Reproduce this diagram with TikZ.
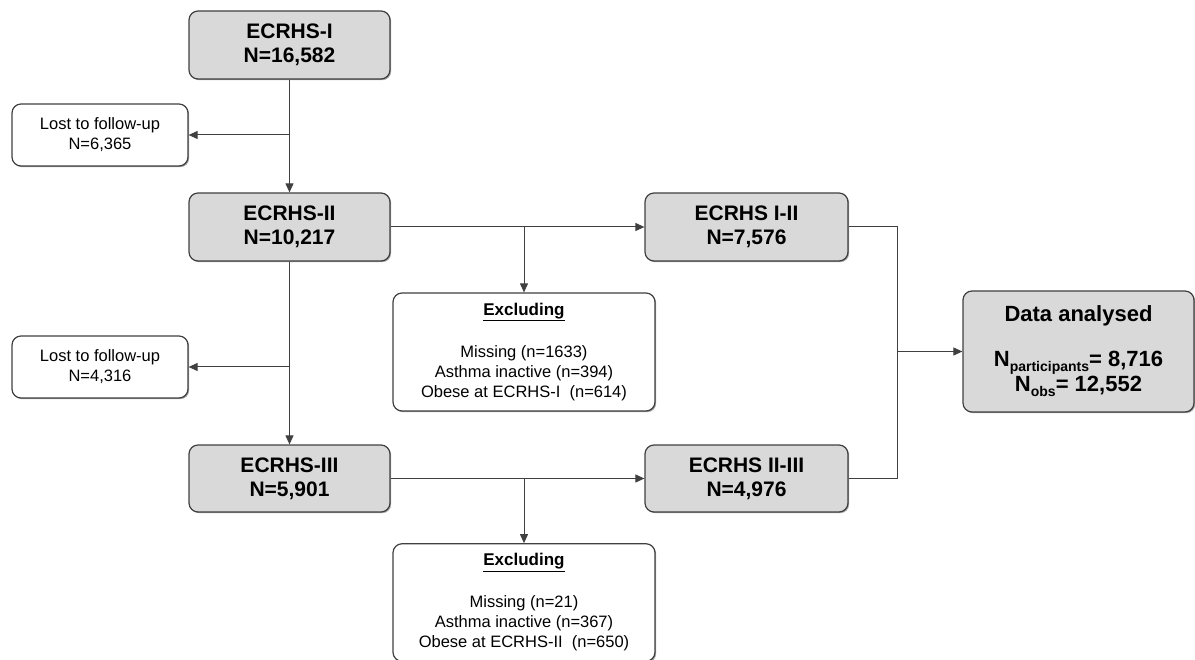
\documentclass[tikz,border=0pt]{standalone}
\usepackage{fontspec}
\setmainfont{Liberation Sans}
\usetikzlibrary{arrows.meta,shadows}
\newcommand{\lowsub}[1]{\raisebox{-5pt}{\fontsize{14}{14}\selectfont #1}}
\begin{document}
\begin{tikzpicture}[x=1pt,y=-1pt,
  box/.style={draw=black!75,line width=1.2pt,rounded corners=9pt,inner sep=0pt,align=center,
    drop shadow={shadow xshift=1.2pt,shadow yshift=-1.2pt,fill=black,opacity=.35}},
  mainbox/.style={box,fill=black!15,font=\fontsize{21}{24}\selectfont\bfseries},
  sidebox/.style={box,fill=white,font=\fontsize{16.5}{20}\selectfont},
  conn/.style={draw=black!75,line width=1pt},
  arr/.style={conn,-{Triangle[length=9pt,width=8pt]}}]
\useasboundingbox (0,0) rectangle (1195,660);

\node[mainbox,minimum width=201pt,minimum height=68pt] (e1) at (289.5,45) {ECRHS-I\\N=16,582};
\node[sidebox,minimum width=176pt,minimum height=62pt] (l1) at (100,135) {Lost to follow-up\\N=6,365};
\node[mainbox,minimum width=201pt,minimum height=68pt] (e2) at (289.5,227) {ECRHS-II\\N=10,217};
\node[mainbox,minimum width=203pt,minimum height=68pt] (e12) at (746.5,227) {ECRHS I-II\\N=7,576};
\node[sidebox,minimum width=262pt,minimum height=118pt] (x1) at (524,352)
  {\fontsize{17}{20}\selectfont\bfseries\underline{Excluding}\\[22pt]
   Missing (n=1633)\\ Asthma inactive (n=394)\\ Obese at ECRHS-I~ (n=614)};
\node[mainbox,minimum width=231pt,minimum height=121pt,font=\fontsize{22}{25}\selectfont\bfseries] (da) at (1078.5,351.5)
  {Data analysed\\[20pt] N\lowsub{participants}= 8,716\\ N\lowsub{obs}= 12,552};
\node[sidebox,minimum width=176pt,minimum height=62pt] (l2) at (100,367) {Lost to follow-up\\N=4,316};
\node[mainbox,minimum width=201pt,minimum height=67pt] (e3) at (289.5,478.5) {ECRHS-III\\N=5,901};
\node[mainbox,minimum width=203pt,minimum height=67pt] (e23) at (746.5,478.5) {ECRHS II-III\\N=4,976};
\node[sidebox,minimum width=262pt,minimum height=117.5pt] (x2) at (524,602.5)
  {\fontsize{17}{20}\selectfont\bfseries\underline{Excluding}\\[22pt]
   Missing (n=21)\\ Asthma inactive (n=367)\\ Obese at ECRHS-II~ (n=650)};

\coordinate (r) at (897,0);

\draw[arr] (e1.south) -- (e2.north);
\draw[arr] (e1.south |- l1.east) -- (l1.east);
\draw[arr] (e2.east) -- (e12.west);
\draw[arr] (x1.north |- e2.east) -- (x1.north);
\draw[arr] (e2.south) -- (e3.north);
\draw[arr] (e2.south |- l2.east) -- (l2.east);
\draw[arr] (e3.east) -- (e23.west);
\draw[arr] (x2.north |- e3.east) -- (x2.north);
\draw[conn] (e12.east) -- (e12.east -| r) -- (e23.east -| r) -- (e23.east);
\draw[arr] (r |- da.west) -- (da.west);
\end{tikzpicture}
\end{document}
